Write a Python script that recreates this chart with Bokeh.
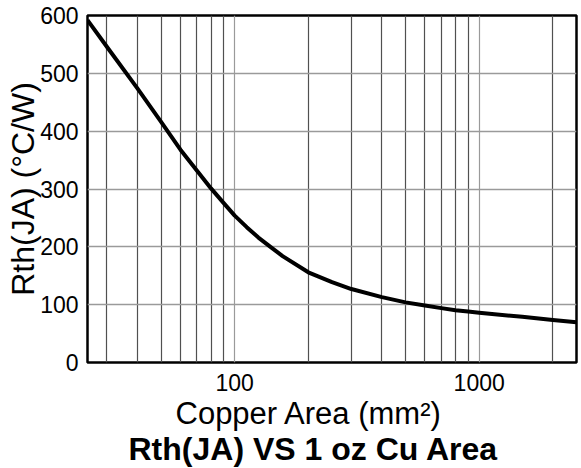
from bokeh.plotting import figure
from bokeh.models import FixedTicker, Title, PrintfTickFormatter, Range1d
from bokeh.embed import file_html
from bokeh.resources import INLINE

# Data
area_mm2 = [25, 30, 40, 50, 60, 70, 80, 90, 100, 112, 125, 140, 157, 200, 250,
            300, 400, 500, 600, 700, 800, 900, 1000, 1500, 2000, 2500]
rth_ja = [592, 546, 474, 416, 368, 332, 301, 276, 254, 234, 216, 200, 184, 156, 139,
          127, 113, 104, 98.5, 94, 90.5, 88, 86, 79, 73.5, 69.5]
x_major_ticks = [100, 1000]
x_minor_ticks = [30, 40, 50, 60, 70, 80, 90, 200, 300, 400, 500, 600, 700, 800, 900, 2000]
y_ticks = [0, 100, 200, 300, 400, 500, 600]

x_label = "Copper Area (mm²)"
y_label = "Rth(JA) (°C/W)"
title_text = "Rth(JA) VS 1 oz Cu Area"

FONT = "Liberation Sans"

p = figure(width=581, height=468, x_axis_type="log",
           x_range=Range1d(25, 2500), y_range=Range1d(0, 600),
           output_backend="svg", toolbar_location=None,
           min_border_left=87, min_border_right=5, min_border_top=15,
           min_border_bottom=106)

p.background_fill_color = "white"
p.border_fill_color = "white"
p.outline_line_color = "black"
p.outline_line_width = 2.5

p.xaxis.ticker = FixedTicker(ticks=x_major_ticks, minor_ticks=x_minor_ticks)
p.xaxis.formatter = PrintfTickFormatter(format="%d")
p.yaxis.ticker = FixedTicker(ticks=y_ticks)

for ax in (p.xaxis, p.yaxis):
    ax.axis_line_color = None
    ax.major_tick_line_color = None
    ax.minor_tick_line_color = None
    ax.major_tick_in = 0
    ax.major_tick_out = 0
    ax.minor_tick_in = 0
    ax.minor_tick_out = 0
    ax.major_label_text_font = FONT
    ax.major_label_text_font_size = "23px"
    ax.major_label_text_color = "black"
p.yaxis.major_label_standoff = 9
p.xaxis.major_label_standoff = 11

p.yaxis.axis_label = y_label
p.yaxis.axis_label_text_font = FONT
p.yaxis.axis_label_text_font_size = "32px"
p.yaxis.axis_label_text_font_style = "normal"
p.yaxis.axis_label_text_color = "black"
p.yaxis.axis_label_standoff = -4

p.xgrid.grid_line_color = "#9a9a9a"
p.xgrid.grid_line_width = 1.2
p.xgrid.minor_grid_line_color = "#505050"
p.xgrid.minor_grid_line_width = 1.2
p.ygrid.grid_line_color = "#9a9a9a"
p.ygrid.grid_line_width = 1.5

p.line(area_mm2, rth_ja, line_color="black", line_width=4, line_join="round")

xt = Title(text=x_label, align="left", offset=88, text_font=FONT,
           text_font_size="31px", text_font_style="normal", text_color="black",
           standoff=1)
p.add_layout(xt, "below")
tt = Title(text=title_text, align="left", offset=41, text_font=FONT,
           text_font_size="32px", text_font_style="bold", text_color="black",
           standoff=-5)
p.add_layout(tt, "below")

open("out.html", "w").write(file_html(p, INLINE))
